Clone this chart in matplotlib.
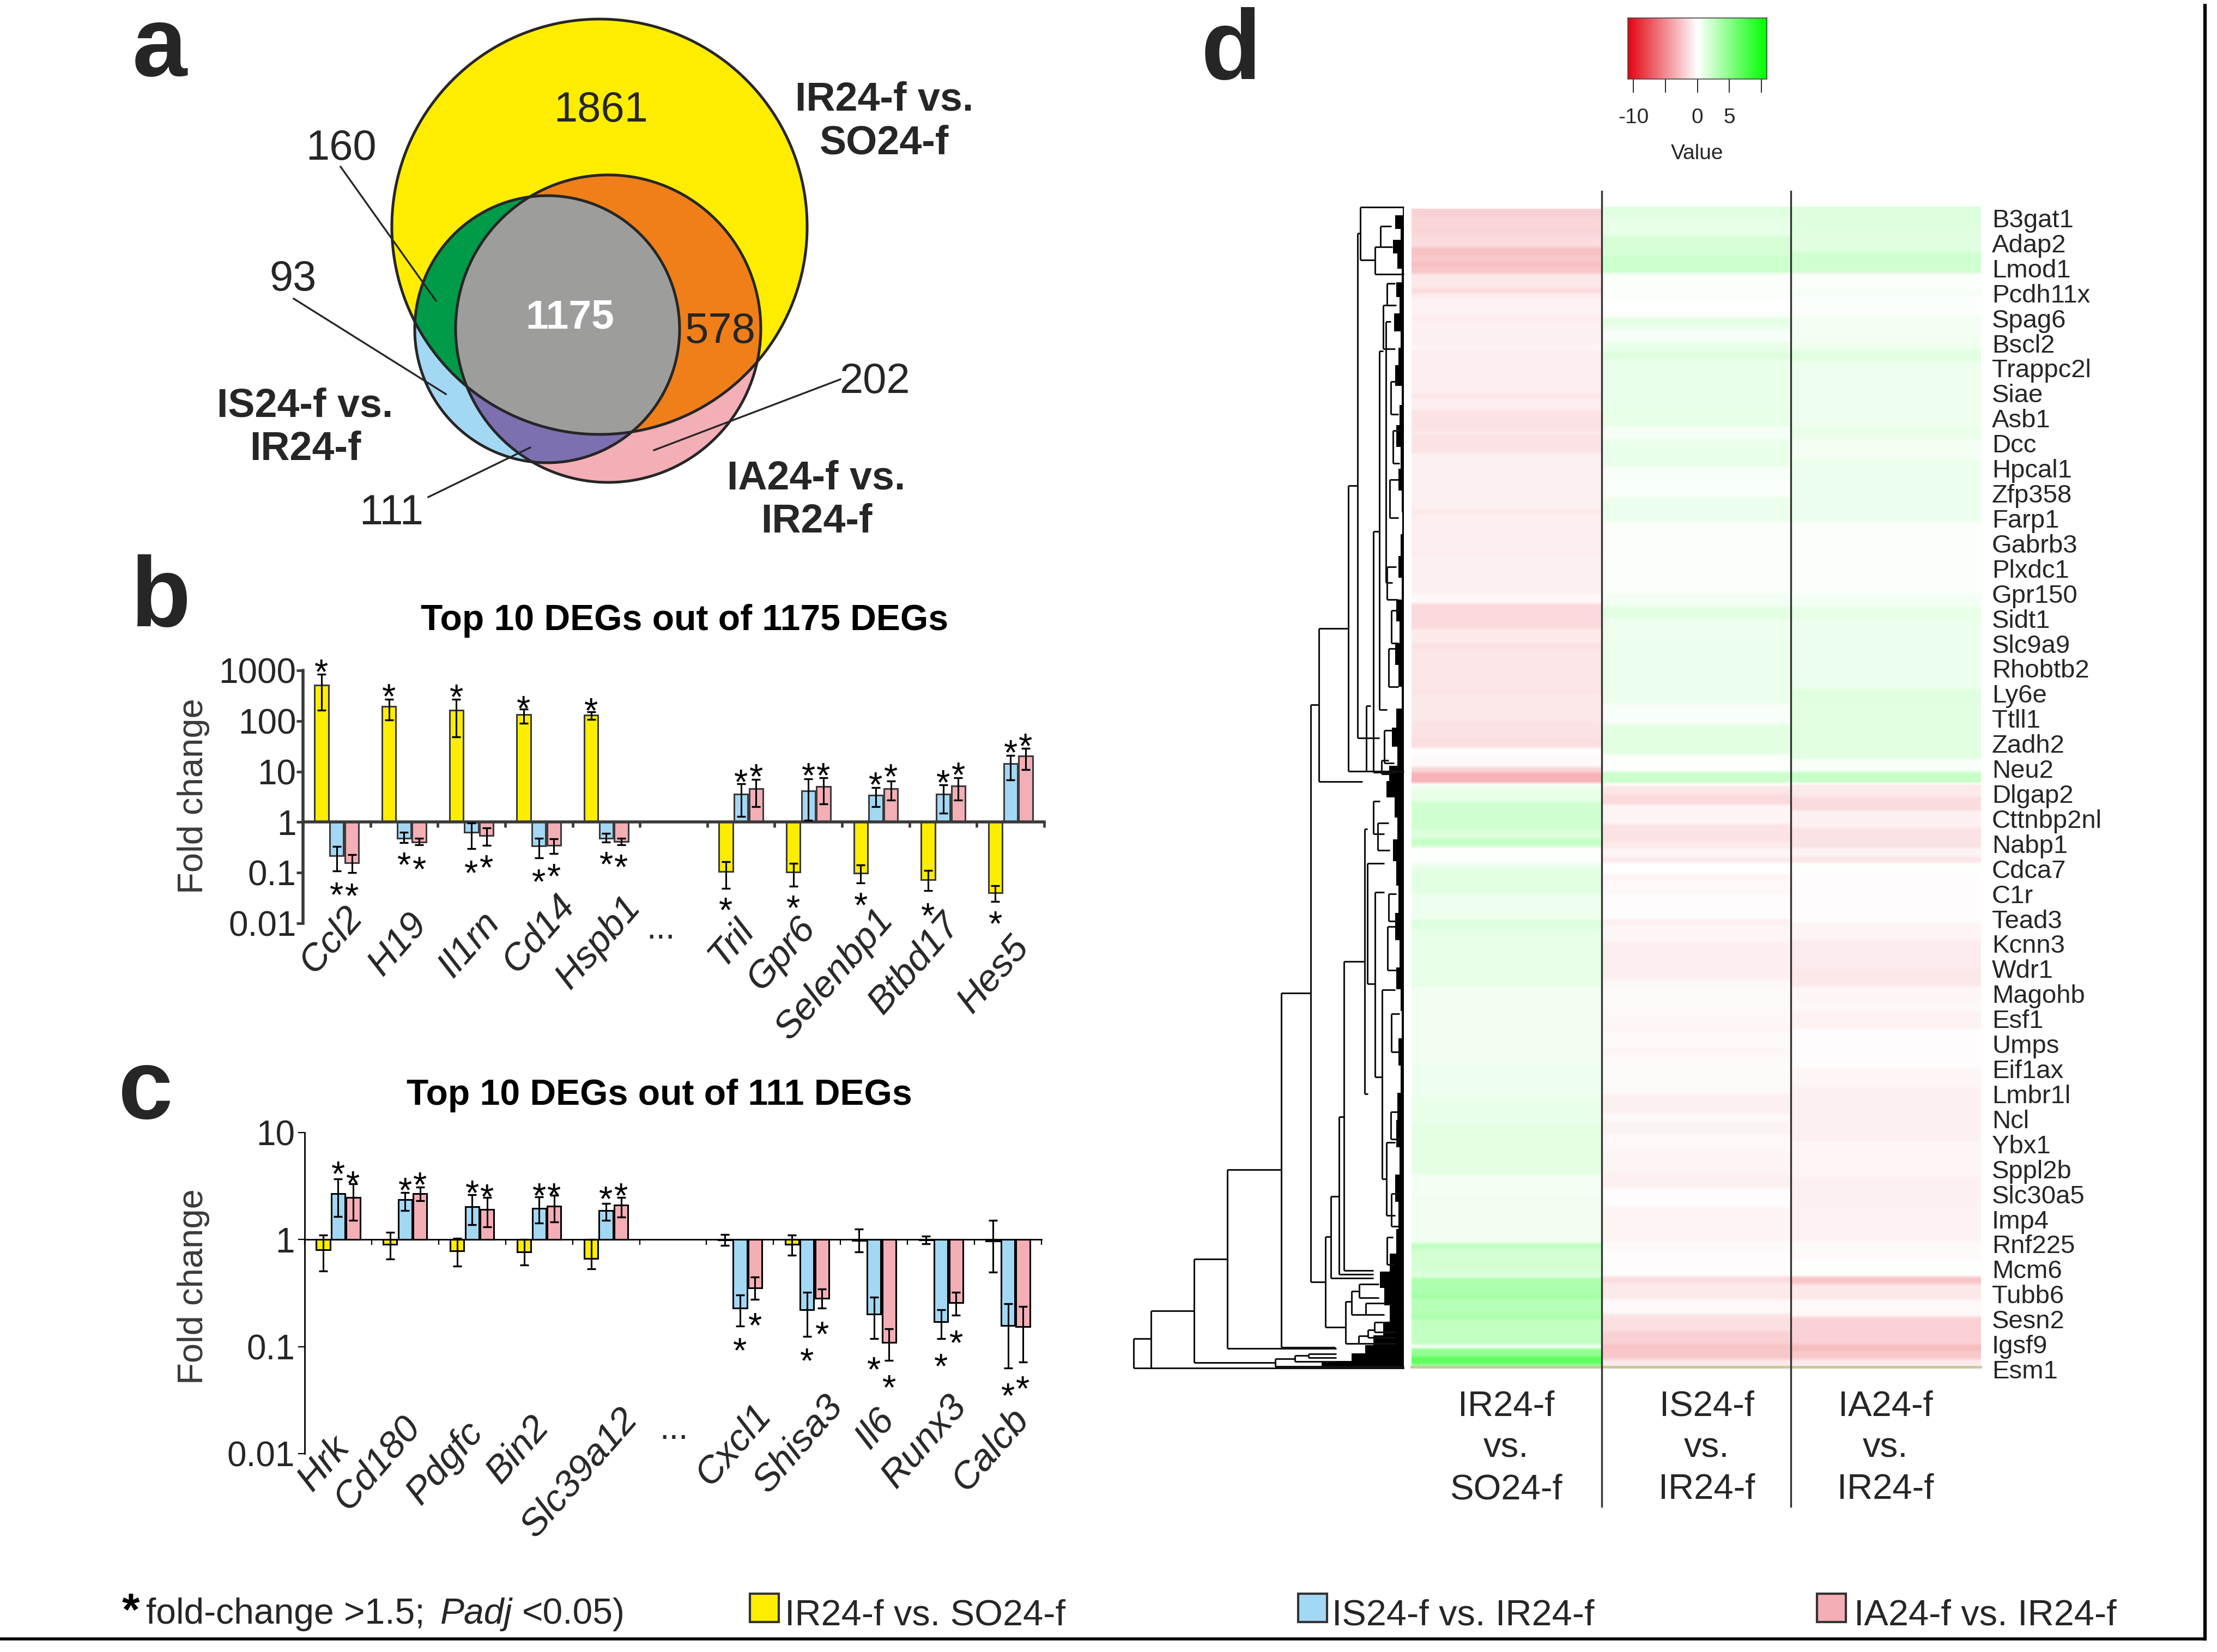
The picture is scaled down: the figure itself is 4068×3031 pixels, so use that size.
import numpy as np
import matplotlib
matplotlib.use("Agg")
import matplotlib.pyplot as plt
from matplotlib.collections import LineCollection
from matplotlib.colors import LinearSegmentedColormap
from matplotlib.patches import Polygon, Rectangle
from matplotlib.ticker import FixedLocator, FixedFormatter, NullLocator

plt.rcParams['font.family'] = ['Liberation Sans', 'DejaVu Sans']
W, H = 4068, 3031
INK = '#262626'
YELLOW, BLUE, PINK = '#FFED00', '#A3D8F4', '#F4AEB5'

# ---------- data: panel b ----------
GENES_B = ['Ccl2', 'H19', 'Il1rn', 'Cd14', 'Hspb1', 'Tril', 'Gpr6', 'Selenbp1', 'Btbd17', 'Hes5']
B_YEL = [510, 196, 162, 134, 131, .105, .102, .099, .073, .040]
B_YEL_HI = [840, 270, 270, 173, 152, .165, .154, .142, .11, .055]
B_YEL_LO = [162, 105, 48, 91, 108, .049, .054, .063, .044, .027]
B_BLU = [.215, .483, .633, .34, .483, 3.6, 4.2, 3.4, 3.6, 14.4]
B_BLU_HI = [.33, .633, .97, .483, .6, 5.8, 7.1, 4.8, 5.5, 21]
B_BLU_LO = [.108, .39, .297, .194, .405, 1.3, 1.1, 2.0, 1.5, 6.9]
B_PNK = [.158, .405, .545, .35, .41, 4.6, 5.1, 4.6, 5.2, 20.4]
B_PNK_HI = [.227, .477, .775, .47, .483, 7.0, 7.5, 6.5, 7.5, 29]
B_PNK_LO = [.101, .355, .345, .24, .355, 2.0, 2.3, 2.7, 2.7, 11]
B_STAR_YEL = [1429, 468, 456, 274, 246, .0285, .031, .035, .022, .0152]
B_STAR_BLU = [.0565, .222, .153, .102, .228, 9.5, 13, 8.4, 9.3, 36.6]
B_STAR_PNK = [.054, .18, .195, .13, .2, 12.2, 13, 12.2, 13.3, 49]

# ---------- data: panel c ----------
GENES_C = ['Hrk', 'Cd180', 'Pdgfc', 'Bin2', 'Slc39a12', 'Cxcl1', 'Shisa3', 'Il6', 'Runx3', 'Calcb']
C_YEL = [.80, .90, .785, .766, .668, .99, .90, .98, .99, .97]
C_YEL_HI = [1.10, 1.17, 1.03, 1.0, 1.0, 1.12, 1.10, 1.25, 1.075, 1.51]
C_YEL_LO = [.51, .657, .568, .577, .533, .88, .718, .766, .915, .495]
C_BLU = [2.68, 2.35, 2.02, 1.97, 1.88, .228, .222, .202, .170, .157]
C_BLU_HI = [3.67, 2.75, 2.62, 2.51, 2.17, .302, .323, .29, .222, .253]
C_BLU_LO = [1.65, 1.86, 1.38, 1.43, 1.51, .155, .124, .119, .119, .063]
C_PNK = [2.47, 2.68, 1.91, 2.05, 2.09, .355, .284, .109, .257, .153]
C_PNK_HI = [3.33, 3.1, 2.49, 2.59, 2.47, .446, .347, .147, .323, .237]
C_PNK_LO = [1.52, 2.32, 1.32, 1.46, 1.62, .275, .228, .074, .196, .072]
C_STAR_BLU = [5.03, 3.56, 3.33, 3.15, 2.95, .113, .09, .0748, .08, .0428]
C_STAR_PNK = [4.11, 4.0, 3.1, 3.15, 3.15, .194, .161, .051, .133, .05]

# ---------- data: venn counts ----------
VENN_COUNTS = {'1861': (1102, 203), '160': (626, 272), '93': (538, 513), '578': (1322, 608),
               '202': (1605, 700), '111': (718, 941)}

# ---------- data: heatmap (row where each band ends, value of the band) ----------
HEAT_TOP = [383, 379, 379]
HEAT_COL1 = [(398, -2.0), (416, -1.7), (432, -1.8), (454, -1.5), (469, -2.7), (480, -2.3), (490, -2.8), (502, -2.4),
             (528, -1.0), (538, -1.5), (549, -.8), (579, -.55), (590, -.8), (634, -.6), (641, -.3), (723, -.75),
             (730, -1.1), (753, -.7), (792, -1.25), (797, -.9), (831, -1.25), (935, -.65), (944, -1.0), (1013, -.7),
             (1017, -.9), (1090, -.6), (1107, -.3), (1154, -1.55), (1180, -.9), (1189, -1.3), (1267, -1.1),
             (1271, -1.3), (1324, -1.0), (1354, -1.2), (1372, -1.4), (1388, -.15), (1407, -.2), (1417, -1.7),
             (1437, -3.3), (1448, .6), (1471, 1.0), (1522, 2.0), (1538, 1.5), (1554, 2.3), (1563, .1), (1583, .1),
             (1595, .8), (1641, 1.2), (1687, .7), (1705, 1.4), (1810, 1.1), (1948, .6), (2012, .7), (2062, .9),
             (2154, 1.15), (2191, .45), (2281, .6), (2292, 2.6), (2333, 1.8), (2345, 1.5), (2375, 3.5), (2382, 4.0),
             (2411, 3.1), (2421, 3.5), (2467, 2.5), (2474, .3), (2489, 4.6), (2503, 6.7), (2510, 4.0)]
HEAT_COL2 = [(398, 1.3), (434, 1.1), (469, 1.7), (501, 2.2), (528, .2), (549, .2), (572, 0.0), (583, .2), (595, 1.2),
             (606, .8), (627, .3), (645, .9), (659, 1.4), (746, .9), (783, 1.0), (806, .4), (857, .9), (884, .3),
             (912, .2), (958, .8), (1090, .25), (1113, .5), (1136, 1.2), (1173, .7), (1292, .8), (1329, .3),
             (1384, 1.2), (1416, .15), (1437, 2.2), (1443, -.5), (1457, -1.1), (1476, -1.6), (1489, -.5), (1512, -.5),
             (1545, -1.2), (1558, -.8), (1572, -.4), (1583, -.9), (1604, 0.0), (1613, -.5), (1641, -.3), (1687, -.1),
             (1696, -.7), (1728, -.4), (1797, -.7), (1810, -.3), (1856, -.25), (1879, -.3), (1893, -.5), (1920, -.2),
             (1938, -.35), (2007, -.2), (2044, -.6), (2058, -.25), (2081, -.55), (2113, -.3), (2154, -.5), (2180, -.65),
             (2214, -.15), (2278, -.45), (2297, -.2), (2329, -.1), (2342, -.1), (2354, -1.5), (2384, -.9), (2411, -.3),
             (2421, -1.2), (2443, -1.4), (2466, -2.0), (2476, -2.6), (2494, -2.4), (2510, -1.0)]
HEAT_COL3 = [(416, 1.4), (462, 1.3), (501, 2.0), (531, .2), (544, .4), (581, .2), (618, .5), (641, .6), (664, 1.2),
             (783, .7), (806, .9), (843, .5), (912, .8), (958, .8), (1090, .25), (1113, .45), (1136, 1.0), (1264, .8),
             (1292, 1.3), (1393, 1.2), (1416, .3), (1437, 2.3), (1462, -.9), (1487, -1.5), (1519, -.6), (1556, -1.2),
             (1572, -.5), (1583, -1.1), (1600, .1), (1694, -.1), (1724, -.5), (1779, -.8), (1810, -1.0), (1837, -.4),
             (1856, -.3), (1888, -.55), (1959, -.1), (1994, -.35), (2095, -.6), (2159, -.35), (2205, -.65), (2278, -.55),
             (2315, -.2), (2342, .1), (2356, -2.5), (2384, -1.0), (2416, -.3), (2466, -1.9), (2480, -2.8), (2494, -2.3),
             (2503, -1.0), (2510, -.8)]
HEAT_COLUMNS = ['IR24-f\nvs.\nSO24-f', 'IS24-f\nvs.\nIR24-f', 'IA24-f\nvs.\nIR24-f']
HEAT_GENES = ['B3gat1', 'Adap2', 'Lmod1', 'Pcdh11x', 'Spag6', 'Bscl2', 'Trappc2l', 'Siae', 'Asb1', 'Dcc', 'Hpcal1',
              'Zfp358', 'Farp1', 'Gabrb3', 'Plxdc1', 'Gpr150', 'Sidt1', 'Slc9a9', 'Rhobtb2', 'Ly6e', 'Ttll1', 'Zadh2',
              'Neu2', 'Dlgap2', 'Cttnbp2nl', 'Nabp1', 'Cdca7', 'C1r', 'Tead3', 'Kcnn3', 'Wdr1', 'Magohb', 'Esf1',
              'Umps', 'Eif1ax', 'Lmbr1l', 'Ncl', 'Ybx1', 'Sppl2b', 'Slc30a5', 'Imp4', 'Rnf225', 'Mcm6', 'Tubb6',
              'Sesn2', 'Igsf9', 'Esm1']

# dendrogram merges: x of merge, (y, child x) of upper and of lower branch
DENDRO = [(2080, 2456, 2112, 2510, 2576), (2112, 2405, 2191, 2510, 2576), (2191, 2310, 2252, 2500, 2340),
          (2252, 2146, 2351, 2474, 2452), (2351, 1822, 2405, 2472, 2450), (2405, 1293, 2420, 2352, 2432),
          (2420, 1153, 2474, 1434, 2500), (2474, 891, 2491, 1415, 2507), (2491, 428, 2496, 1354, 2531),
          (2496, 380, 2576, 477, 2523), (2523, 453, 2533, 503, 2576), (2533, 415, 2553, 453, 2555),
          (2531, 644, 2538, 1302, 2545), (2543, 590, 2552, 1069, 2555), (2507, 1295, 2515, 1415, 2576),
          (2520, 975, 2531, 1417, 2560), (2340, 2493, 2376, 2507, 2576), (2376, 2487, 2401, 2498, 2452),
          (2401, 2484, 2452, 2491, 2452), (2432, 2269, 2442, 2435, 2470), (2442, 2195, 2457, 2345, 2520),
          (2457, 2049, 2466, 2338, 2520), (2466, 1764, 2504, 2331, 2520), (2504, 1521, 2509, 2007, 2510),
          (2509, 1584, 2540, 1805, 2523), (2523, 1637, 2540, 1976, 2536), (2536, 1816, 2560, 2163, 2545),
          (2544, 2096, 2560, 2230, 2560), (2469, 2388, 2480, 2465, 2493), (2480, 2369, 2494, 2412, 2506),
          (2494, 2356, 2530, 2381, 2530), (2506, 2391, 2540, 2412, 2540), (2493, 2451, 2510, 2465, 2560),
          (2510, 2440, 2522, 2454, 2560), (2522, 2426, 2545, 2444, 2560),
          (2545, 520, 2560, 560, 2562), (2538, 560, 2556, 640, 2560), (2552, 700, 2566, 760, 2566),
          (2556, 790, 2570, 850, 2568), (2550, 880, 2566, 950, 2566), (2553, 1120, 2568, 1180, 2566),
          (2548, 1190, 2560, 1260, 2566), (2545, 1040, 2562, 1100, 2565), (2540, 1340, 2556, 1400, 2558),
          (2535, 1395, 2548, 1420, 2552), (2528, 1510, 2548, 1560, 2550), (2520, 1470, 2532, 1530, 2540),
          (2548, 1640, 2562, 1690, 2566), (2546, 1700, 2560, 1780, 2564), (2553, 1860, 2568, 1930, 2566),
          (2552, 2040, 2566, 2090, 2566), (2553, 2190, 2566, 2250, 2566), (2545, 2270, 2556, 2320, 2558)]
DENDRO_EDGE_Y = [380, 410, 430, 450, 480, 505, 530, 560, 590, 625, 650, 690, 725, 760, 800, 840, 880, 920, 960, 1000,
                 1040, 1080, 1120, 1160, 1200, 1240, 1280, 1320, 1350, 1390, 1420, 1445, 1480, 1520, 1560, 1600, 1650,
                 1700, 1750, 1800, 1830, 1880, 1930, 1980, 2030, 2080, 2130, 2180, 2230, 2280, 2320, 2345, 2380, 2410,
                 2440, 2460, 2475, 2490, 2503, 2510]
DENDRO_EDGE_X = [2574, 2560, 2570, 2556, 2564, 2572, 2562, 2568, 2558, 2570, 2566, 2560, 2572, 2568, 2562, 2570, 2566,
                 2572, 2573, 2570, 2566, 2572, 2562, 2568, 2560, 2566, 2572, 2562, 2554, 2564, 2549, 2544, 2559, 2564,
                 2556, 2562, 2566, 2560, 2568, 2562, 2570, 2572, 2566, 2570, 2564, 2562, 2568, 2560, 2566, 2562, 2550,
                 2532, 2540, 2550, 2538, 2520, 2505, 2480, 2425, 2340]

# ---------- layout ----------
GROUP_SLOTS = [0, 1, 2, 3, 4, 6, 7, 8, 9, 10]
B_TIP_X = [665, 785, 917, 1055, 1176, 1384, 1497, 1640, 1762, 1888]
B_TIP_Y = [1667, 1680, 1677, 1645, 1648, 1690, 1686, 1672, 1680, 1721]
C_TIP_X = [642, 772, 887, 1009, 1170, 1415, 1546, 1641, 1775, 1888]
C_TIP_Y = [2640, 2602, 2612, 2602, 2588, 2581, 2564, 2588, 2564, 2588]

fig = plt.figure(figsize=(W / 100, H / 100), dpi=100, facecolor='white')


def axpx(l, t, r, b, **kw):
    return fig.add_axes([l / W, 1 - b / H, (r - l) / W, (b - t) / H], **kw)


ov = axpx(0, 0, W, H, zorder=10)
ov.set_xlim(0, W)
ov.set_ylim(H, 0)
ov.axis('off')
ov.patch.set_alpha(0)


def T(x, y, s, size, color=INK, ha='center', va='center', **kw):
    return ov.text(x, y, s, fontsize=size, color=color, ha=ha, va=va, **kw)


# ---------- panel a ----------
E_Y = (1100, 416, 381, 381)
E_B = (1004, 604, 243, 245)
E_P = (1116, 603, 280, 282)
INSIDE = (1050, 600)


def region(*ells):
    th = np.linspace(0, 2 * np.pi, 1440, endpoint=False)
    u, v = np.cos(th), np.sin(th)
    rmin = np.full_like(th, 1e9)
    for cx, cy, rx, ry in ells:
        dx, dy = INSIDE[0] - cx, INSIDE[1] - cy
        a = (u / rx) ** 2 + (v / ry) ** 2
        b = 2 * (u * dx / rx ** 2 + v * dy / ry ** 2)
        c = (dx / rx) ** 2 + (dy / ry) ** 2 - 1
        rmin = np.minimum(rmin, (-b + np.sqrt(b * b - 4 * a * c)) / (2 * a))
    return np.column_stack([INSIDE[0] + rmin * u, INSIDE[1] + rmin * v])


for ells, col in [((E_Y,), YELLOW), ((E_B,), BLUE), ((E_P,), PINK), ((E_Y, E_B), '#009B48'),
                  ((E_Y, E_P), '#F07F1A'), ((E_B, E_P), '#7D6FB0'), ((E_Y, E_B, E_P), '#9D9D9C')]:
    ov.add_patch(Polygon(region(*ells), closed=True, fc=col, ec='none', zorder=1))
for e in (E_Y, E_B, E_P):
    ov.add_patch(Polygon(region(e), closed=True, fc='none', ec=INK, lw=3.6, zorder=2))
for (x0, y0, x1, y1) in [(625, 306, 800, 552), (539, 548, 818, 723), (786, 912, 973, 821), (1542, 696, 1200, 826)]:
    ov.plot([x0, x1], [y0, y1], color=INK, lw=2.4, zorder=3)
for s, (x, y) in VENN_COUNTS.items():
    T(x, y, s, 56, zorder=4)
T(1046, 583, '1175', 54, color='white', fontweight='bold', zorder=4)
for x, y, s in [(1623, 223, 'IR24-f vs.\nSO24-f'), (560, 785, 'IS24-f vs.\nIR24-f'), (1498, 918, 'IA24-f vs.\nIR24-f')]:
    T(x, y, s, 53, fontweight='bold', linespacing=1.2, zorder=4)
for x, y, s in [(293, 92, 'a'), (294, 1102, 'b'), (267, 2005, 'c'), (2259, 98, 'd')]:
    T(x, y, s, 130, fontweight='bold')


# ---------- panels b, c ----------
def barpanel(box, ylim, ticks, ticklabels, genes, series, stars, spine_col, spine_lw, tick_lw, title, title_xy, yl_y,
             tips_x, tips_y, dots_xy, tick_pad):
    ax = axpx(*box)
    ax.set_yscale('log')
    ax.set_xlim(0, 11)
    ax.set_ylim(*ylim)
    ax.patch.set_alpha(0)
    for s in ('top', 'right'):
        ax.spines[s].set_visible(False)
    ax.spines['left'].set_color(spine_col)
    ax.spines['left'].set_linewidth(spine_lw)
    ax.spines['bottom'].set_position(('data', 1))
    ax.spines['bottom'].set_color(spine_col)
    ax.spines['bottom'].set_linewidth(spine_lw)
    pos = np.array(GROUP_SLOTS) + 0.5
    for off, (col, v, hi, lo) in zip((-.224, 0, .224), series):
        v, hi, lo = np.array(v), np.array(hi), np.array(lo)
        ax.bar(pos + off, v - 1, bottom=1, width=.205, color=col, edgecolor=spine_col, linewidth=2.2, zorder=2)
        ax.errorbar(pos + off, v, yerr=[np.maximum(v - lo, 0), np.maximum(hi - v, 0)], fmt='none', ecolor='black',
                    elinewidth=2.2, capsize=6, capthick=2.4, zorder=3)
    for off, vals in stars:
        for p, y in zip(pos + off, vals):
            ax.annotate('*', xy=(p, y), xytext=(0, -28), textcoords='offset points', ha='center', va='baseline',
                        fontsize=47, color='black', annotation_clip=False)
    ax.yaxis.set_major_locator(FixedLocator(ticks))
    ax.yaxis.set_major_formatter(FixedFormatter(ticklabels))
    ax.yaxis.set_minor_locator(NullLocator())
    ax.set_xticks(np.arange(0, 12))
    ax.set_xticklabels([])
    ax.tick_params(axis='y', length=9, width=tick_lw, color=spine_col, labelsize=46, labelcolor=INK, pad=tick_pad)
    ax.tick_params(axis='x', length=7, width=tick_lw, color=spine_col, direction='out')
    T(title_xy[0], title_xy[1], title, 47.5, color='black', fontweight='bold')
    T(355, yl_y, 'Fold change', 47, color='#3a3a3a', rotation=90)
    for g, x, y in zip(genes, tips_x, tips_y):
        T(x - 12, y + 5, g, 50, ha='right', va='center', rotation=49, rotation_mode='anchor', style='italic')
    T(dots_xy[0], dots_xy[1], '...', 45)
    return ax


barpanel((556, 1230, 1916, 1694), (.01, 1000), [.01, .1, 1, 10, 100, 1000],
         ['0.01', '0.1', '1', '10', '100', '1000'], GENES_B,
         [(YELLOW, B_YEL, B_YEL_HI, B_YEL_LO), (BLUE, B_BLU, B_BLU_HI, B_BLU_LO), (PINK, B_PNK, B_PNK_HI, B_PNK_LO)],
         [(-.224, B_STAR_YEL), (0, B_STAR_BLU), (.224, B_STAR_PNK)], '#3a3a3a', 4, 3.4,
         'Top 10 DEGs out of 1175 DEGs', (1256, 1139), 1461, B_TIP_X, B_TIP_Y, (1213, 1705), 0)
barpanel((559, 2078, 1911, 2667), (.01, 10), [.01, .1, 1, 10], ['0.01', '0.1', '1', '10'], GENES_C,
         [(YELLOW, C_YEL, C_YEL_HI, C_YEL_LO), (BLUE, C_BLU, C_BLU_HI, C_BLU_LO), (PINK, C_PNK, C_PNK_HI, C_PNK_LO)],
         [(0, C_STAR_BLU), (.224, C_STAR_PNK)], 'black', 2, 1.6,
         'Top 10 DEGs out of 111 DEGs', (1210, 2010), 2361, C_TIP_X, C_TIP_Y, (1237, 2624), 4)

# ---------- panel d: heatmap ----------
cmap = LinearSegmentedColormap.from_list('rwg', [(.89, .02, .07), (1, 1, 1), (0, 1, 0)])
VMAX = 10.85
heat = axpx(2590, 379, 3634, 2510)
rows = np.full((2510 - 379, 3), np.nan)
for j, bands in enumerate((HEAT_COL1, HEAT_COL2, HEAT_COL3)):
    start = HEAT_TOP[j]
    for end, val in bands:
        rows[start - 379:end - 379, j] = val
        start = end
    # the reference is a slightly soft scan: soften band edges by a few rows
    top = HEAT_TOP[j] - 379
    col = rows[top:, j]
    rows[top:, j] = np.convolve(np.pad(col, 3, mode='edge'), np.ones(7) / 7, mode='valid')
heat.imshow(rows, cmap=cmap, vmin=-VMAX, vmax=VMAX, aspect='auto', interpolation='nearest',
            extent=[0, 3, 2510, 379])
heat.axis('off')
for col_x in (2939, 3286):
    ov.plot([col_x, col_x], [351, 2764], color='#333333', lw=2.4, zorder=5)
ov.plot([2590, 3634], [2508, 2508], color='#C8C89A', lw=3.5, zorder=4)
for x, s in zip((2764, 3132, 3460), HEAT_COLUMNS):
    T(x, 2657, s, 47, linespacing=1.35)
for name, y in zip(HEAT_GENES, np.linspace(405, 2517, len(HEAT_GENES))):
    T(3655, y, name, 34, ha='left')

# dendrogram
den = axpx(2060, 379, 2590, 2512)
den.set_xlim(2060, 2590)
den.set_ylim(2512, 379)
den.axis('off')
segs = []
for xm, y0, x0, y1, x1 in DENDRO:
    segs += [[(xm, y0), (xm, y1)], [(xm, y0), (x0, y0)], [(xm, y1), (x1, y1)]]
den.add_collection(LineCollection(segs, colors='#111111', linewidths=2.2))
den.fill_betweenx(DENDRO_EDGE_Y, DENDRO_EDGE_X, 2576, color='black', lw=0, step='mid')

# colour key
key = axpx(2987, 33, 3242, 145)
key.imshow(np.linspace(-VMAX, VMAX, 400)[None, :], cmap=cmap, vmin=-VMAX, vmax=VMAX, aspect='auto',
           extent=[-VMAX, VMAX, 0, 1])
key.set_yticks([])
key.set_xticks([-10, -5, 0, 5, 10])
key.set_xticklabels(['-10', '', '0', '5', ''])
key.tick_params(axis='x', length=18, width=1.4, labelsize=28, color=INK, labelcolor=INK, pad=20)
for s in key.spines.values():
    s.set_color('#444444')
    s.set_linewidth(1.2)
T(3114, 282, 'Value', 28)

# ---------- footer ----------
FOOT_Y = 2962
T(240, FOOT_Y - 2, '*', 60, color='black', fontweight='bold', ha='center')
t0 = T(268, FOOT_Y, 'fold-change >1.5; ', 47.5, ha='left')
fig.canvas.draw()
bb = t0.get_window_extent()
t1 = T(bb.x1 + 10, FOOT_Y, 'Padj', 47.5, ha='left', style='italic')
bb = t1.get_window_extent()
T(bb.x1 + 18, FOOT_Y, '<0.05)', 47.5, ha='left')
for x, tx, col, s in [(1376, 1440, YELLOW, 'IR24-f vs. SO24-f'), (2382, 2444, BLUE, 'IS24-f vs. IR24-f'),
                      (3334, 3402, PINK, 'IA24-f vs. IR24-f')]:
    ov.add_patch(Rectangle((x, 2924), 53, 52, fc=col, ec='#333333', lw=3))
    T(tx, 2964, s, 48, ha='left', va='center')
ov.plot([0, 4049], [3007, 3007], color='black', lw=4, solid_capstyle='butt')
ov.plot([4046, 4046], [7, 3010], color='black', lw=4.5, solid_capstyle='butt')

fig.savefig('out.png', dpi=100, facecolor='white')
